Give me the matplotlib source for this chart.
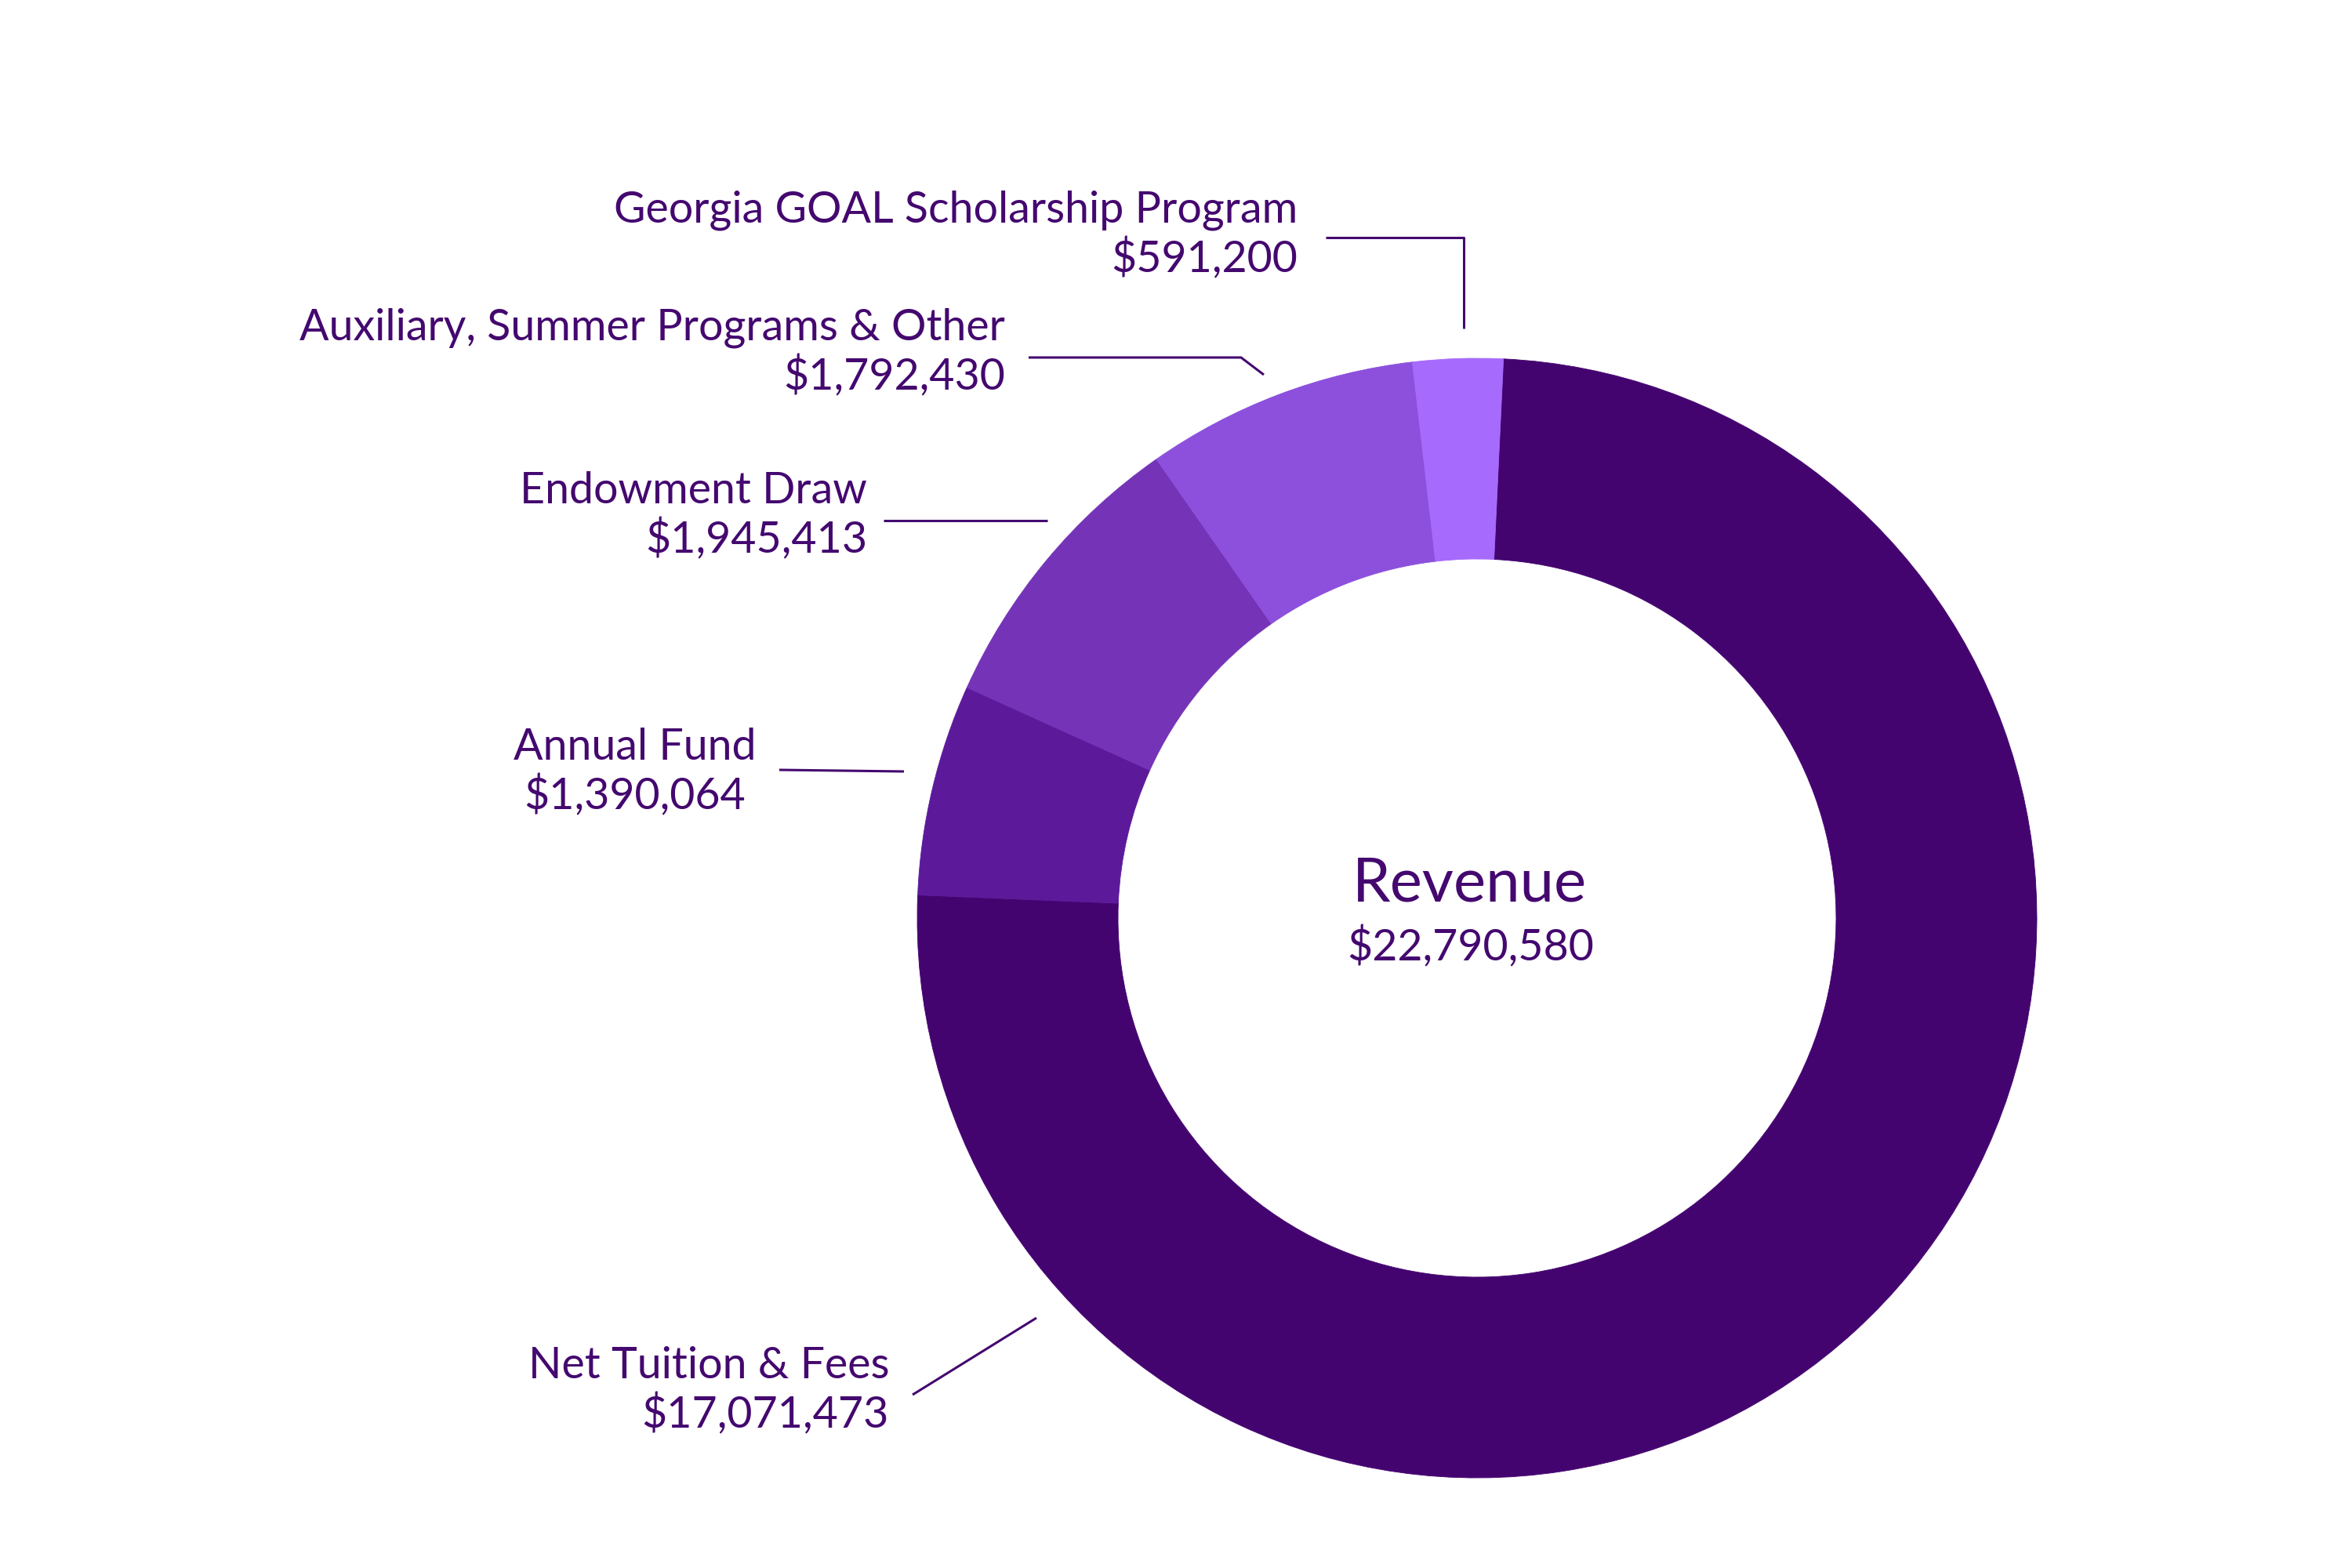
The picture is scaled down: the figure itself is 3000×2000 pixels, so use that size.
import matplotlib.pyplot as plt

plt.rcParams['font.family'] = ['Lato', 'DejaVu Sans']

# slices, clockwise from the top
labels = ['Net Tuition & Fees', 'Annual Fund', 'Endowment Draw',
          'Auxiliary, Summer Programs & Other', 'Georgia GOAL Scholarship Program']
values = [17071473, 1390064, 1945413, 1792430, 591200]
colors = ['#440470', '#5c1a9b', '#7533b8', '#8c50dc', '#a66afc']
center_title = 'Revenue'

ink = '#44086f'
H = 2000  # picture height in px, y is measured from the top


def py(y):
    return H - y


fig = plt.figure(figsize=(30, 20), dpi=100)
ax = fig.add_axes([0, 0, 1, 1])

cx, cy = 1884, 1171
r_out, r_in = 714, 458
wedges, _ = ax.pie(values, colors=colors, startangle=87.3, counterclock=False,
                   center=(cx, py(cy)), radius=r_out,
                   wedgeprops=dict(width=r_out - r_in, linewidth=0.6))
for w in wedges:
    w.set_edgecolor(w.get_facecolor())

ax.set_xlim(0, 3000)
ax.set_ylim(0, H)
ax.set_aspect('equal')
ax.axis('off')

fs = 40

# label placement: (x, baseline of first line, alignment)
label_pos = [(1134, 1758, 'right'), (810, 969, 'center'), (1106, 642, 'right'),
             (1282, 434, 'right'), (1655, 284, 'right')]
leaders = [
    [(1164, 1779), (1322, 1681)],
    [(994, 982), (1153, 984)],
    [(1127, 664), (1336, 664)],
    [(1312, 456), (1583, 456), (1612, 478)],
    [(1691, 303), (1867, 303), (1867, 419)],
]

for lab, val, (x, y, ha), pts in zip(labels, values, label_pos, leaders):
    ax.text(x, py(y), lab, ha=ha, va='baseline', fontsize=fs, color=ink)
    ax.text(x, py(y + 63), f'${val:,}', ha=ha, va='baseline', fontsize=fs, color=ink)
    ax.plot([p[0] for p in pts], [py(p[1]) for p in pts], color=ink, lw=2.2,
            solid_capstyle='butt')

ax.text(1874, py(1150), center_title, ha='center', va='baseline', fontsize=56, color=ink)
ax.text(1876, py(1225), f'${sum(values):,}', ha='center', va='baseline', fontsize=fs, color=ink)

fig.savefig('out.png', dpi=100, facecolor='white')
